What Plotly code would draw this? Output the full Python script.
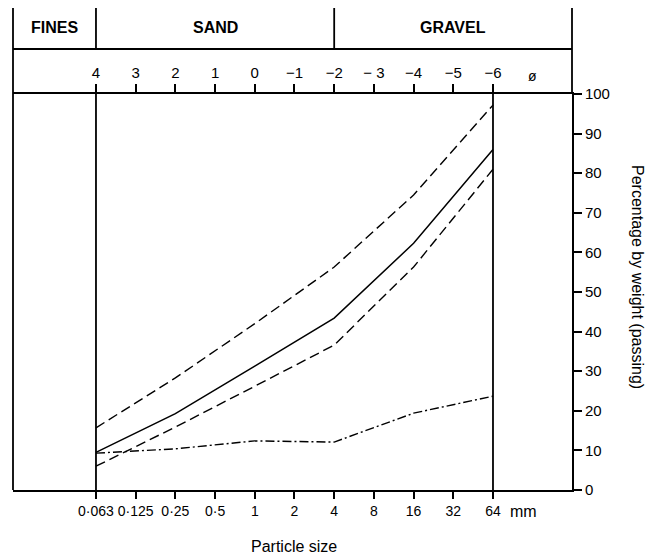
import plotly.graph_objects as go

# ---- data ----
phi_ticks = [4, 3, 2, 1, 0, -1, -2, -3, -4, -5, -6]
phi_labels = ["4", "3", "2", "1", "0", "\u22121", "\u22122", "\u2212 3", "\u22124", "\u22125", "\u22126"]
mm_labels = ["0\u00b7063", "0\u00b7125", "0\u00b725", "0\u00b75", "1", "2", "4", "8", "16", "32", "64"]

phi_points = [4, 2, 0, -2, -4, -6]
solid = [9.5, 19.3, 31.3, 43.4, 62.3, 86.0]
upper_dashed = [15.7, 28.3, 42.0, 56.3, 74.5, 97.2]
lower_dashed = [6.0, 15.9, 26.2, 36.6, 56.3, 81.0]
dash_dot = [9.3, 10.4, 12.4, 12.1, 19.4, 23.7]

y_ticks = list(range(0, 101, 10))
zone_names = ["FINES", "SAND", "GRAVEL"]
zone_limits_phi = [4, -2]          # FINES|SAND and SAND|GRAVEL boundaries
frame_limits_phi = [4, -6]         # vertical frame lines

# ---- geometry (page pixels; the page body has an 8px margin) ----
OFF = 8
XMIN, XMAX = -6.09, 7.99           # axis variable = -phi = log2(mm)
PLOT_L, PLOT_R, PLOT_T, PLOT_B = 13, 572, 94, 490
W, H = 658 - OFF, 557 - OFF
ML, MT = PLOT_L - OFF, PLOT_T - OFF
MR, MB = W - (PLOT_R - OFF), H - (PLOT_B - OFF)
PLOT_H = PLOT_B - PLOT_T
PLOT_W = PLOT_R - PLOT_L


def xp(v):
    return (v - XMIN) / (XMAX - XMIN)


def yp(pix):
    return (PLOT_B - pix) / PLOT_H


Y_TOP = yp(7)
Y_DIV = yp(49)

X = [-p for p in phi_points]
BLACK = "black"

fig = go.Figure()
series = [
    (upper_dashed, "10px,5px", 1.4),
    (solid, "solid", 1.5),
    (lower_dashed, "10px,5px", 1.4),
    (dash_dot, "9px,3px,2px,3px", 1.4),
]
for vals, dash, w in series:
    fig.add_trace(go.Scatter(x=X, y=vals, mode="lines",
                             line=dict(color=BLACK, width=w, dash=dash),
                             showlegend=False, hoverinfo="skip"))

for p in frame_limits_phi:
    fig.add_trace(go.Scatter(x=[-p, -p], y=[0, 100], mode="lines",
                             line=dict(color=BLACK, width=1.8),
                             showlegend=False, hoverinfo="skip"))

# trace for top phi axis
fig.add_trace(go.Scatter(x=[None], y=[None], xaxis="x2", showlegend=False,
                         hoverinfo="skip"))

FONT = "Liberation Sans, Arial, sans-serif"

axis_common = dict(showgrid=False, zeroline=False, showline=True,
                   linecolor=BLACK, linewidth=1.8, ticks="outside",
                   tickcolor=BLACK, tickwidth=1.5, fixedrange=True, tickangle=0)

fig.update_layout(
    width=W, height=H,
    margin=dict(l=ML, r=MR, t=MT, b=MB),
    paper_bgcolor="white", plot_bgcolor="white",
    font=dict(family=FONT, color=BLACK, size=15),
    xaxis=dict(range=[XMIN, XMAX], tickvals=[-p for p in phi_ticks],
               ticktext=mm_labels, ticklen=7, tickfont=dict(size=14),
               **axis_common),
    xaxis2=dict(range=[XMIN, XMAX], tickvals=[-p for p in phi_ticks],
                ticktext=phi_labels, overlaying="x", side="top", anchor="y",
                ticklen=8, tickfont=dict(size=15), **axis_common),
    yaxis=dict(range=[0, 100], tickvals=y_ticks, side="right", ticklen=8,
               tickfont=dict(size=15), **axis_common),
)

line = dict(color=BLACK, width=1.8)
shapes = [
    dict(type="line", xref="paper", yref="paper", x0=0, x1=0, y0=0, y1=Y_TOP, line=line),
    dict(type="line", xref="paper", yref="paper", x0=0, x1=1, y0=Y_TOP, y1=Y_TOP, line=line),
    dict(type="line", xref="paper", yref="paper", x0=0, x1=1, y0=Y_DIV, y1=Y_DIV, line=line),
    dict(type="line", xref="paper", yref="paper", x0=1, x1=1, y0=1, y1=Y_TOP, line=line),
]
for p in zone_limits_phi:
    shapes.append(dict(type="line", xref="paper", yref="paper", x0=xp(-p), x1=xp(-p),
                       y0=Y_DIV, y1=Y_TOP, line=line))
fig.update_layout(shapes=shapes)

edges = [0, xp(-zone_limits_phi[0]), xp(-zone_limits_phi[1]), 1]
ann = []
for i, name in enumerate(zone_names):
    ann.append(dict(text="<b>%s</b>" % name, xref="paper", yref="paper",
                    x=(edges[i] + edges[i + 1]) / 2, y=yp(27), showarrow=False,
                    font=dict(size=16, family=FONT), xanchor="center", yanchor="middle"))
ann.append(dict(text="\u00f8", xref="x", yref="paper", x=7, y=yp(76), showarrow=False,
                font=dict(size=14), xanchor="center", yanchor="middle"))
ann.append(dict(text="mm", xref="x", yref="paper", x=6.38, y=yp(511), showarrow=False,
                font=dict(size=16), xanchor="left", yanchor="middle"))
ann.append(dict(text="Particle size", xref="x", yref="paper", x=1, y=yp(546), showarrow=False,
                font=dict(size=16), xanchor="center", yanchor="middle"))
ann.append(dict(text="Percentage by weight (passing)", xref="paper", yref="paper",
                x=(638 - PLOT_L) / PLOT_W, y=yp(277), textangle=90, showarrow=False,
                font=dict(size=16), xanchor="center", yanchor="middle"))
fig.update_layout(annotations=ann)

fig.write_html("out.html")
